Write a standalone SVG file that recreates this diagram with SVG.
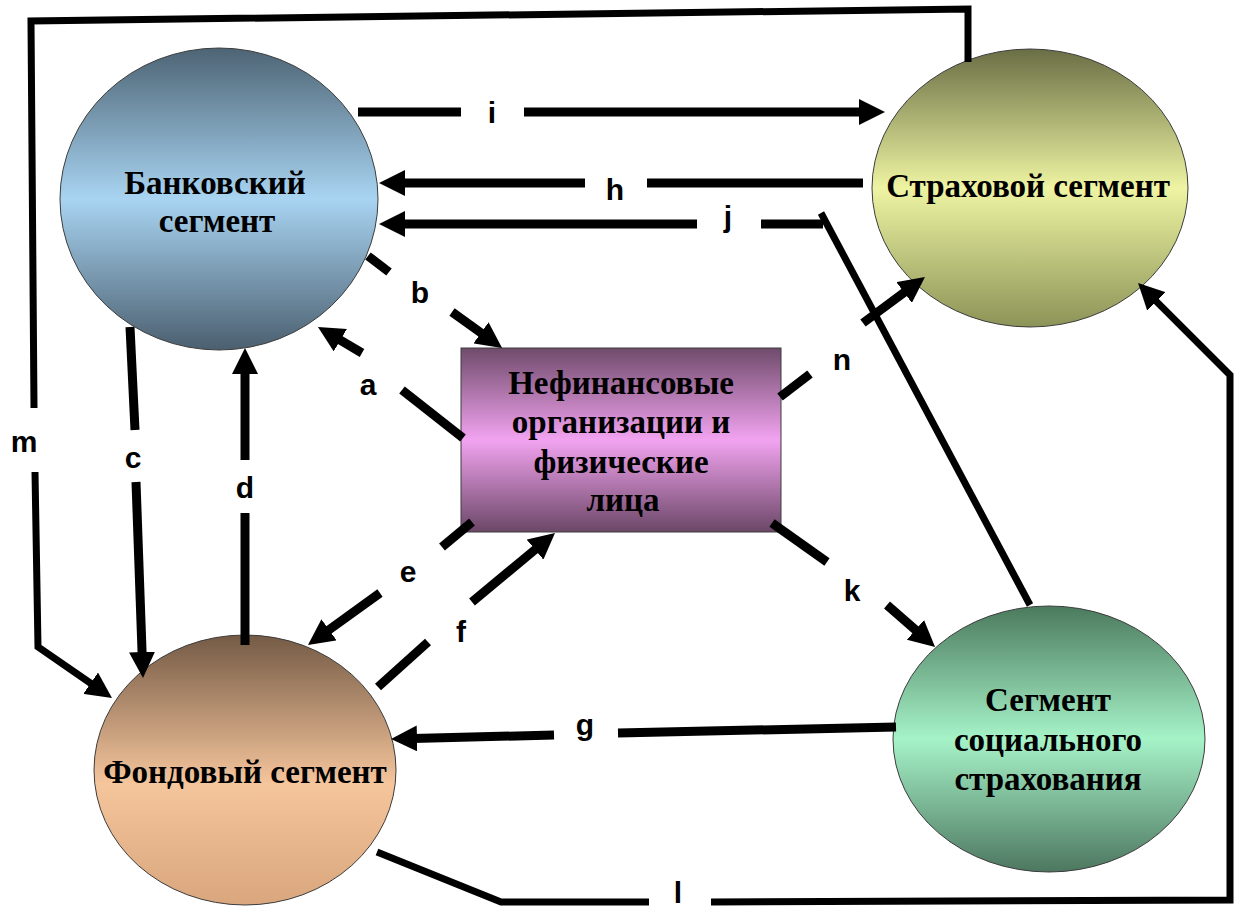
<svg xmlns="http://www.w3.org/2000/svg" width="1243" height="907" viewBox="0 0 1243 907">
<style>
.node{stroke:#3c3c3c;stroke-width:1}
.nt{font-family:"Liberation Serif","Times New Roman",serif;font-weight:bold;font-size:33px;fill:#000;text-anchor:middle}
.lb{font-family:"Liberation Sans",Arial,sans-serif;font-weight:bold;font-size:30px;fill:#000;text-anchor:middle}
.c{fill:none;stroke:#000;stroke-width:9;stroke-linejoin:miter}
.t{fill:none;stroke:#000;stroke-width:7;stroke-linejoin:miter}
</style>
<defs>
<marker id="ah" markerUnits="userSpaceOnUse" viewBox="0 0 26 26" refX="4" refY="13" markerWidth="26" markerHeight="26" orient="auto">
<path d="M0,0 L26,13 L0,26 z" fill="#000"/>
</marker>
<linearGradient id="gBank" x1="0" y1="0" x2="0" y2="1">
<stop offset="0" stop-color="#4d6474"/><stop offset="0.5" stop-color="#a8d4f2"/><stop offset="1" stop-color="#4b5f6f"/>
</linearGradient>
<linearGradient id="gIns" x1="0" y1="0" x2="0" y2="1">
<stop offset="0" stop-color="#6a6e45"/><stop offset="0.5" stop-color="#eef4a2"/><stop offset="1" stop-color="#8c9357"/>
</linearGradient>
<linearGradient id="gFund" x1="0" y1="0" x2="0" y2="1">
<stop offset="0" stop-color="#745a45"/><stop offset="0.55" stop-color="#f5c59c"/><stop offset="1" stop-color="#d9a67d"/>
</linearGradient>
<linearGradient id="gSoc" x1="0" y1="0" x2="0" y2="1">
<stop offset="0" stop-color="#4b7a5d"/><stop offset="0.5" stop-color="#a6f3c8"/><stop offset="1" stop-color="#4d7760"/>
</linearGradient>
<linearGradient id="gRect" x1="0" y1="0" x2="0" y2="1">
<stop offset="0" stop-color="#6f4b6b"/><stop offset="0.5" stop-color="#f2a3f0"/><stop offset="1" stop-color="#6b4767"/>
</linearGradient>
</defs>
<rect width="1243" height="907" fill="#fff"/>

<g id="bank">
<ellipse class="node" cx="219" cy="199" rx="159" ry="151" fill="url(#gBank)"/>
<text class="nt" x="215" y="194">Банковский</text>
<text class="nt" x="217" y="232">сегмент</text>
</g>
<g id="insurance">
<ellipse class="node" cx="1030" cy="188" rx="158" ry="139" fill="url(#gIns)"/>
<text class="nt" x="1028" y="197">Страховой сегмент</text>
</g>
<g id="fund">
<ellipse class="node" cx="245" cy="770" rx="151" ry="135" fill="url(#gFund)"/>
<text class="nt" x="245" y="783">Фондовый сегмент</text>
</g>
<g id="social">
<ellipse class="node" cx="1049" cy="739" rx="156" ry="133" fill="url(#gSoc)"/>
<text class="nt" x="1048" y="711">Сегмент</text>
<text class="nt" x="1048" y="751">социального</text>
<text class="nt" x="1048" y="790">страхования</text>
</g>
<g id="nonfin">
<rect class="node" x="461" y="348" width="320" height="184" fill="url(#gRect)"/>
<text class="nt" x="621" y="394">Нефинансовые</text>
<text class="nt" x="621" y="433">организации и</text>
<text class="nt" x="621" y="473">физические</text>
<text class="nt" x="623" y="511">лица</text>
</g>

<g id="connectors">
<!-- i -->
<path class="c" d="M358,112 L461,112"/>
<path class="c" d="M524,112 L863,112" marker-end="url(#ah)"/>
<!-- h -->
<path class="c" d="M863,183 L647,183"/>
<path class="c" d="M585,183 L401,183" marker-end="url(#ah)"/>
<!-- j -->
<path class="t" d="M1030,605 L821,213"/>
<path class="c" d="M823,224 L761,224"/>
<path class="c" d="M697,224 L401,224" marker-end="url(#ah)"/>
<!-- b -->
<path class="c" d="M368,256 L389,272"/>
<path class="c" d="M452,312 L484.2,335.1" marker-end="url(#ah)"/>
<!-- a -->
<path class="c" d="M463,438 L402,390"/>
<path class="c" d="M362,353 L336.9,338.2" marker-end="url(#ah)"/>
<!-- n -->
<path class="c" d="M780,397 L810,374"/>
<path class="c" d="M863,323 L907.3,290.1" marker-end="url(#ah)"/>
<!-- e -->
<path class="c" d="M472,522 L442,547"/>
<path class="c" d="M380,593 L325.8,632.1" marker-end="url(#ah)"/>
<!-- f -->
<path class="c" d="M378,687 L428,642"/>
<path class="c" d="M472,602 L538.1,547.1" marker-end="url(#ah)"/>
<!-- k -->
<path class="c" d="M772,523 L827,562"/>
<path class="c" d="M887,605 L918.5,632.5" marker-end="url(#ah)"/>
<!-- g -->
<path class="c" d="M896,727 L618,733"/>
<path class="c" d="M554,735 L413,738.5" marker-end="url(#ah)"/>
<!-- c -->
<path class="c" d="M130,327 L135,430"/>
<path class="c" d="M136,482 L142.2,656" marker-end="url(#ah)"/>
<!-- d -->
<path class="c" d="M245,645 L245,513"/>
<path class="c" d="M245,460 L245,370" marker-end="url(#ah)"/>
<!-- m -->
<path class="t" d="M968,62 L968,9 L31,21 L34,408"/>
<path class="t" d="M35,472 L38,647 L93.9,685.5" marker-end="url(#ah)"/>
<!-- l -->
<path class="t" d="M377,852 L501,902 L649,902"/>
<path class="t" d="M711,902 L1230,900 L1230,375 L1153.6,298.6" marker-end="url(#ah)"/>
</g>

<g id="labels">
<text class="lb" x="492" y="123">i</text>
<text class="lb" x="615" y="200">h</text>
<text class="lb" x="728" y="227">j</text>
<text class="lb" x="420" y="303">b</text>
<text class="lb" x="368" y="395">a</text>
<text class="lb" x="842" y="370">n</text>
<text class="lb" x="24" y="452">m</text>
<text class="lb" x="133" y="468">c</text>
<text class="lb" x="245" y="498">d</text>
<text class="lb" x="408" y="582">e</text>
<text class="lb" x="461" y="642">f</text>
<text class="lb" x="852" y="601">k</text>
<text class="lb" x="585" y="735">g</text>
<text class="lb" x="678" y="903">l</text>
</g>
</svg>
